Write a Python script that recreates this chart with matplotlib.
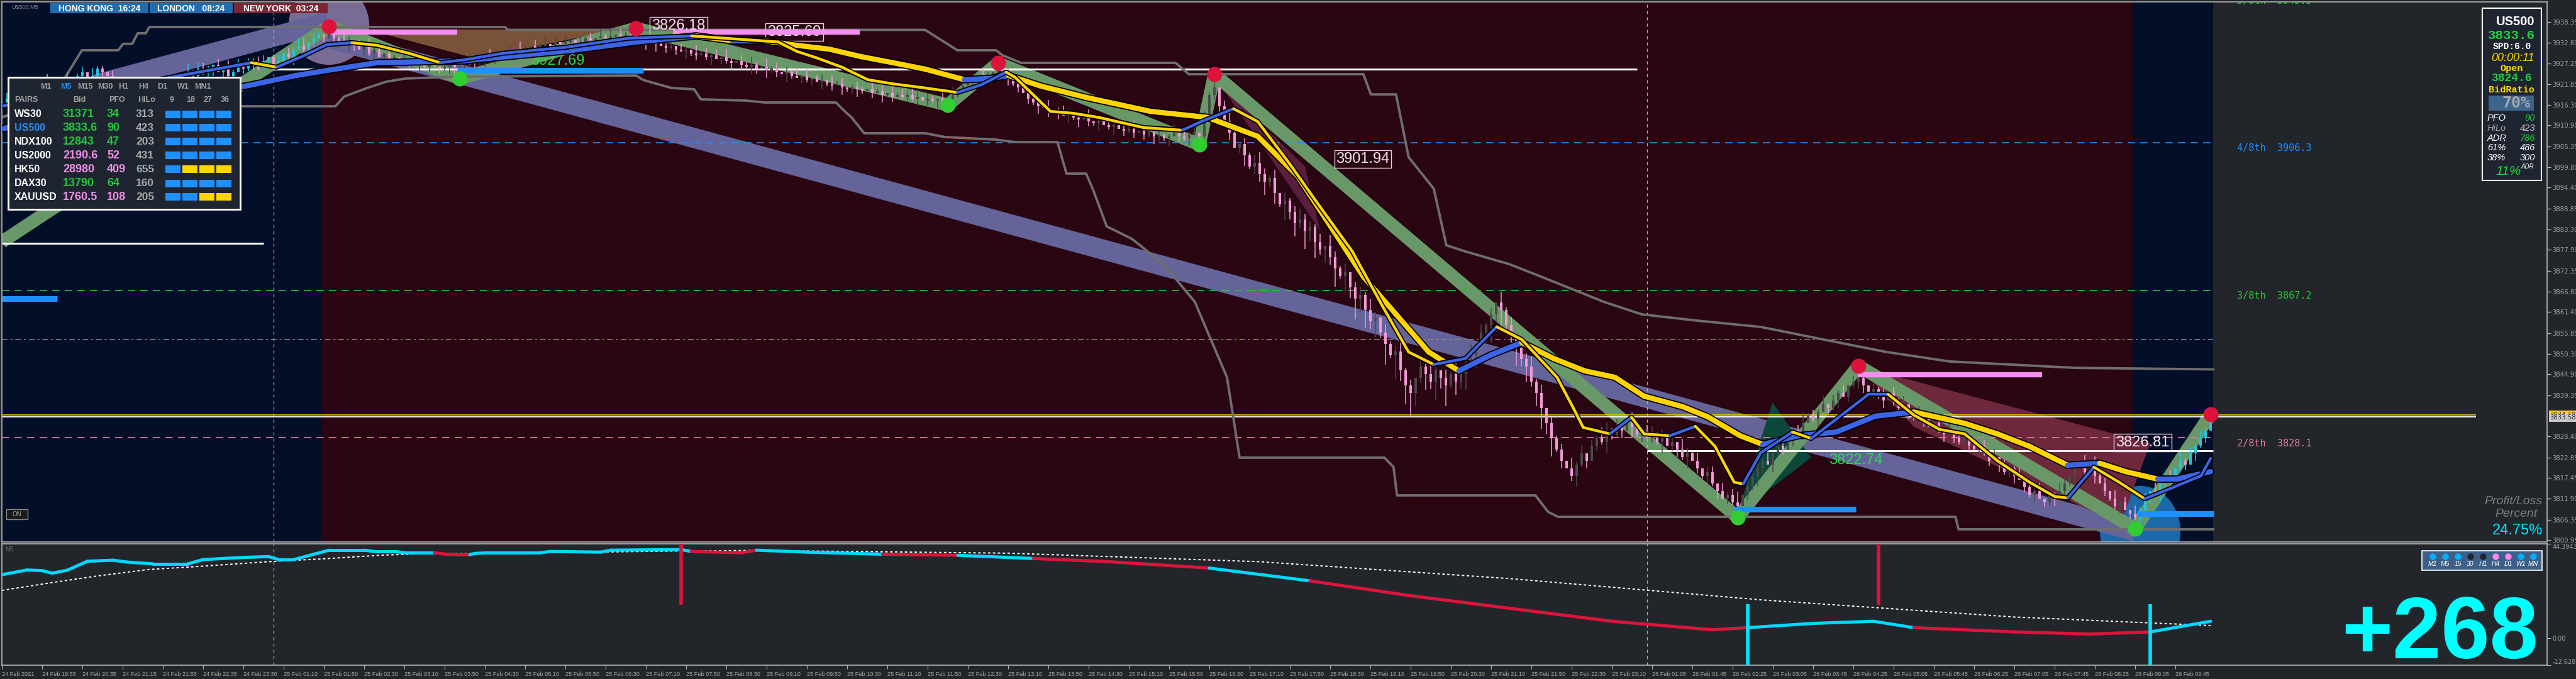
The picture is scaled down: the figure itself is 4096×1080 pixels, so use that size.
import numpy as np
import matplotlib
matplotlib.use("Agg")
import matplotlib.pyplot as plt
from matplotlib import font_manager
from matplotlib.patches import Rectangle, Ellipse, Polygon
from matplotlib.collections import LineCollection
import matplotlib.transforms as mtransforms

# ============================ DATA ============================
time_labels = ["24 Feb 2021", "24 Feb 19:55", "24 Feb 20:35", "24 Feb 21:15", "24 Feb 21:55", "24 Feb 22:35",
               "24 Feb 23:30", "25 Feb 01:10", "25 Feb 01:50", "25 Feb 02:30", "25 Feb 03:10", "25 Feb 03:50",
               "25 Feb 04:30", "25 Feb 05:10", "25 Feb 05:50", "25 Feb 06:30", "25 Feb 07:10", "25 Feb 07:50",
               "25 Feb 08:30", "25 Feb 09:10", "25 Feb 09:50", "25 Feb 10:30", "25 Feb 11:10", "25 Feb 11:50",
               "25 Feb 12:30", "25 Feb 13:10", "25 Feb 13:50", "25 Feb 14:30", "25 Feb 15:10", "25 Feb 15:50",
               "25 Feb 16:30", "25 Feb 17:10", "25 Feb 17:50", "25 Feb 18:30", "25 Feb 19:10", "25 Feb 19:50",
               "25 Feb 20:30", "25 Feb 21:10", "25 Feb 21:50", "25 Feb 22:30", "25 Feb 23:10", "26 Feb 01:05",
               "26 Feb 01:45", "26 Feb 02:25", "26 Feb 03:05", "26 Feb 03:45", "26 Feb 04:25", "26 Feb 05:05",
               "26 Feb 05:45", "26 Feb 06:25", "26 Feb 07:05", "26 Feb 07:45", "26 Feb 08:25", "26 Feb 09:05",
               "26 Feb 09:45"]
price_ticks = ["3938.35", "3932.80", "3927.25", "3921.85", "3916.30", "3910.90", "3905.35", "3899.80", "3894.40",
               "3888.85", "3883.30", "3877.90", "3872.35", "3866.80", "3861.40", "3855.85", "3850.30", "3844.90",
               "3839.35", "3828.40", "3822.85", "3817.45", "3811.90", "3806.35", "3800.95"]

first_open = 3916.5
closes = [3917, 3918, 3920, 3919, 3921, 3922, 3920, 3921, 3923, 3922,
          3920, 3919, 3921, 3923, 3922, 3924, 3925, 3923, 3924, 3926,
          3925, 3924, 3922, 3921, 3922, 3920, 3921, 3923, 3922, 3921,
          3920, 3921, 3922, 3923, 3922, 3923, 3924, 3925, 3924, 3926,
          3925, 3926, 3927, 3925, 3926, 3924, 3925, 3927, 3926, 3928,
          3927, 3926, 3928, 3929, 3927, 3928, 3930, 3929, 3931, 3932,
          3931, 3933, 3934, 3935, 3934.5, 3935.5, 3934, 3933, 3932, 3933,
          3932, 3931, 3932, 3930, 3931, 3929, 3930, 3928, 3929, 3927,
          3928, 3927.5, 3927, 3927.5, 3926.5, 3927, 3926.5, 3926, 3926.5, 3927,
          3926.5, 3926.5, 3927, 3928, 3927.5, 3928.5, 3929, 3928.5, 3929.5, 3930,
          3929.5, 3930.5, 3931, 3930.5, 3931.5, 3932, 3931.5, 3932, 3932.5, 3932,
          3933, 3932.5, 3933, 3933.5, 3932.5, 3933, 3934, 3933.5, 3934, 3934.5,
          3934, 3934.5, 3935, 3934.5, 3935, 3934.5, 3935, 3934, 3933, 3933.5,
          3932.5, 3932, 3931.5, 3932, 3931, 3930.5, 3931, 3930, 3929.5, 3930,
          3929, 3929.5, 3928.5, 3929, 3928, 3927.5, 3928, 3927, 3926.5, 3927,
          3926, 3926.5, 3925.5, 3926, 3925, 3924.5, 3925, 3924, 3923.5, 3924,
          3923, 3923.5, 3922.5, 3923, 3922, 3921.5, 3922, 3921, 3920.5, 3921,
          3920.5, 3920, 3920.5, 3919.5, 3920, 3919, 3919.5, 3918.5, 3919, 3918.5,
          3919, 3918, 3918.5, 3917.5, 3918, 3917.5, 3918, 3917, 3918, 3919,
          3920, 3921.5, 3922.5, 3923, 3924, 3923.5, 3924.5, 3925, 3925.5, 3924.5,
          3923.5, 3922, 3921, 3919.5, 3918, 3917, 3916, 3915.5, 3914.5, 3915,
          3914, 3913.5, 3914, 3913, 3912.5, 3913, 3912, 3911.5, 3912, 3911,
          3910.5, 3911, 3910, 3909.5, 3910, 3909, 3909.5, 3908.5, 3909, 3908,
          3908.5, 3907.5, 3908, 3909, 3908, 3907.5, 3908.5, 3909, 3908, 3914,
          3919, 3921, 3916, 3912, 3909, 3905, 3906, 3903, 3900, 3901,
          3898, 3896, 3897, 3893, 3890, 3891, 3888, 3885, 3886, 3883,
          3884, 3880, 3878, 3879, 3876, 3873, 3871, 3872, 3868, 3865,
          3866, 3862, 3859, 3860, 3856, 3853, 3850, 3851, 3846, 3842,
          3840, 3844, 3847, 3845, 3843, 3846, 3844, 3842, 3845, 3843,
          3845, 3848, 3850, 3853, 3856, 3858, 3861, 3864, 3862, 3858,
          3855, 3852, 3849, 3847, 3843, 3840, 3836, 3832, 3828, 3825,
          3822, 3820, 3818, 3821, 3824, 3822, 3826, 3828, 3827, 3830,
          3829, 3831, 3830, 3832, 3831, 3829, 3830, 3828, 3829, 3827,
          3828, 3826, 3827, 3825, 3823, 3824, 3822, 3820, 3818, 3819,
          3816, 3814, 3812, 3813, 3811, 3810, 3813, 3815, 3818, 3820,
          3822, 3821, 3824, 3826, 3825, 3828, 3830, 3829, 3832, 3834,
          3833, 3835, 3837, 3836, 3838, 3840, 3839, 3842, 3843, 3844,
          3842, 3840, 3841, 3839, 3838, 3840, 3838, 3836, 3837, 3835,
          3834, 3835, 3833, 3831, 3832, 3830, 3829, 3830, 3828, 3827,
          3828, 3826, 3825, 3826, 3824, 3822, 3823, 3821, 3819, 3820,
          3818, 3817, 3815, 3813, 3814, 3812, 3811, 3813, 3812, 3814,
          3816, 3818, 3820, 3822, 3819, 3821, 3818, 3816, 3814, 3812,
          3810, 3811, 3809, 3808, 3807, 3809, 3812, 3814, 3813, 3816,
          3818, 3817, 3820, 3822, 3821, 3824, 3826, 3828, 3830, 3833.6]
wick_up = ("1201302102 2013012031 1022013102 0130210312 2102031201 1320120213 3021020132 1203120210 "
           "2012031021 3102201301 1203102130 2031021203 1302120312 0213021031 2120310213 1031202130 "
           "3012031201 2103120312 1230210213 0312031021 2103120130 1320213021 3102130212 2013021301 "
           "1302310213 4213031242 2130421302 3142031241 2031420314 1240312041 3102413021 2041302143 "
           "1302410231 3120421302 2031240313 1302130241 2130213021 3021302130 1203120312 2130213021 "
           "1302130213 2031203120 3120312031 1203120312")
wick_dn = ("2103120312 1320213021 2031203120 3102130213 1230213021 2103102130 1320213102 2031302120 "
           "1203120213 3120213021 2013120312 1302031210 2120312031 3021203120 1302130213 2031203102 "
           "1203120312 3102031201 2130213021 1023120312 3120213021 2031302130 1302120213 2130213021 "
           "3241302413 3524163527 4625371648 5736281947 9526374815 3625147362 4736258471 3024130214 "
           "2130413021 4023140213 1302130214 2031203120 1302130213 3021302103 2130213021 1203120312 "
           "3021302130 2130213021 1302130213 2031203120")

sessions = [(-1.0, 63.5, "asia"), (63.5, 423.5, "ny"), (423.5, 439.5, "asia")]
day_breaks = [54, 327]

slow_b = [0, 24.6, 49.6, 58.4, 66.3, 74.6, 91.8, 113.4, 126.1, 138, 145.3, 151.6, 158, 164.4, 170.8, 177.1,
          183.5, 191.3, 196.3, 200.1, 206.5, 215.5, 228.3, 239.6, 249.6, 257.5, 264.1, 270.6, 277.1, 283.6,
          289.6, 295.9, 302.1, 308.4, 314.6, 320.6, 326.4, 334.1, 339.1, 345.5, 350, 357, 364.6, 372.4, 380,
          390.1, 396.6, 403, 410.6, 417, 422.1, 428.5, 432.3, 439]
slow_p = [3910, 3915.5, 3921.6, 3924.1, 3925.8, 3927.5, 3928.0, 3930.8, 3933.0, 3934.6, 3933.3, 3933.3, 3932.1,
          3931.1, 3929.1, 3927.5, 3925.8, 3923.0, 3923.3, 3924.1, 3921.3, 3918.3, 3914.6, 3913.0, 3908.0, 3897.5,
          3884.1, 3870.8, 3860.8, 3850.8, 3845.8, 3850.0, 3853.3, 3849.1, 3845.8, 3844.1, 3839.1, 3836.3, 3833.6,
          3828.6, 3826.3, 3828.6, 3829.6, 3833.8, 3834.9, 3831.9, 3829.1, 3825.8, 3820.8, 3821.3, 3819.1, 3817.1,
          3817.1, 3819.1]
fast_b = [0, 24.6, 49.6, 54.6, 59.6, 64.6, 69.6, 74.6, 80.9, 87.1, 92.1, 99.6, 112.1, 124.6, 137.1, 154.3, 158,
          161.9, 167, 172.1, 177.1, 183.5, 189.9, 194.6, 199.6, 201.4, 205.3, 208.4, 212.9, 218, 226.9, 234.6,
          238.4, 244.8, 249.6, 255.9, 262.1, 268.4, 274.6, 279.6, 284.6, 290.9, 297.1, 302.1, 309.1, 312.4, 314.3,
          319.6, 323.9, 326.4, 331.5, 336.6, 340.5, 344.3, 346.1, 349.6, 355.9, 359.6, 364.6, 371, 374.9, 380,
          385.1, 390.1, 396.6, 403, 408, 410.6, 415.8, 420.8, 425.9, 431, 437.1, 439]
fast_p = [3916, 3921.5, 3927.5, 3926.3, 3929.1, 3932.3, 3932.8, 3932.1, 3930.0, 3927.5, 3928.3, 3930.0, 3931.6,
          3934.0, 3934.6, 3933.0, 3930.5, 3928.8, 3926.3, 3923.0, 3921.9, 3920.8, 3919.6, 3921.6, 3925.0, 3923.6,
          3918.6, 3914.6, 3914.1, 3913.0, 3910.3, 3909.6, 3911.9, 3915.3, 3911.9, 3900.8, 3889.1, 3877.5, 3862.5,
          3850.8, 3847.5, 3849.1, 3857.5, 3854.1, 3844.1, 3835.8, 3830.8, 3829.1, 3833.5, 3829.1, 3828.6, 3831.1,
          3825.8, 3816.3, 3815.8, 3824.1, 3829.6, 3827.9, 3833.0, 3839.6, 3839.6, 3834.1, 3830.3, 3829.1, 3822.0,
          3816.3, 3812.5, 3812.1, 3820.3, 3816.3, 3811.9, 3814.6, 3818.0, 3822.6]

chan_up_b = [0, 10, 15.9, 23.1, 24.1, 25.9, 27, 28.6, 29.3, 100, 100.6, 183.5, 189.9, 197.6, 198.9, 202.6, 233.3,
             235.9, 270.6, 272.1, 277.1, 279.6, 284.6, 287.1, 290.9, 299.6, 305.9, 318.4, 325.9, 337.1, 349.6,
             362.1, 374.6, 387.1, 412.1, 439.5]
chan_up_p = [3913, 3918, 3930.8, 3930.8, 3932.5, 3932.5, 3935.3, 3935.3, 3936.95, 3936.95, 3936.2, 3936.2, 3930.8,
             3930.8, 3929.45, 3927.45, 3927.45, 3924.45, 3924.45, 3919.1, 3919.1, 3902.45, 3894.1, 3879.1, 3877.45,
             3874.1, 3870.8, 3864.1, 3860.8, 3859.1, 3857.45, 3854.1, 3850.8, 3848.3, 3846.6, 3846.2]
chan_dn_b = [0, 66.3, 68, 72.6, 76.4, 80.2, 90.5, 126.1, 127.4, 130, 133.1, 137.6, 138.9, 147.9, 151.6, 165.8, 167,
             168.9, 171.4, 183.5, 187.4, 197.6, 201.4, 209.8, 211.6, 215.5, 216.8, 219.6, 224.6, 230.9, 237.1, 243.5,
             246, 274.8, 276.6, 277.3, 304.8, 307.3, 309.3, 388.3, 388.9, 439.5]
chan_dn_p = [3915.95, 3915.95, 3918.5, 3920.8, 3922.45, 3923.3, 3923.8, 3924.1, 3922.95, 3921.95, 3920.8, 3920.45,
             3917.8, 3917.45, 3916.95, 3916.95, 3915.3, 3912.95, 3908.8, 3908.8, 3907.8, 3907.1, 3906.45, 3906.45,
             3898.1, 3898.1, 3894.1, 3884.1, 3880.8, 3874.1, 3864.1, 3844.1, 3822.8, 3822.8, 3820.3, 3812.8, 3812.8,
             3808.45, 3807.1, 3807.1, 3803.8, 3803.8]

zz_b = [0, 65, 91, 126, 188, 198, 238, 241, 345, 369, 424, 439]
zz_p = [3880, 3937.1, 3923.3, 3936.6, 3916.3, 3927.4, 3905.8, 3924.4, 3806.95, 3847.1, 3803.95, 3834.3]
high_dots_b = [65, 126, 198, 241, 369, 439]
high_dots_p = [3937.1, 3936.6, 3927.4, 3924.4, 3847.1, 3834.3]
low_dots_b = [91, 188, 238, 345, 424]
low_dots_p = [3923.3, 3916.3, 3905.8, 3806.95, 3803.95]

band_down = [(64.6, 3934.1), (424.0, 3803.3)]
band_up = [(18.4, 3921.6), (64.9, 3938.3)]
tri_brown = [(72.6, 3936.3), (122.4, 3936.3), (94.3, 3928.6)]
tri_teal = [(344.9, 3807.8), (351.9, 3837.5), (359.6, 3822.8)]
quad_red = [(369, 3847), (427, 3826.6), (421, 3805), (380, 3831)]
tri_red = [(242, 3922), (262, 3883), (259, 3900)]
circle_top = (65, 3937.6)
circle_bottom = (425, 3803.3)

pink_bars = [(65.4, 90.5, 3935.7), (133.4, 170.5, 3935.7), (368.9, 405.5, 3844.8)]
blue_bars = [(0, 11, 3864.9), (90.5, 127.5, 3925.5), (344.3, 368.5, 3809.1), (424.4, 439.6, 3807.9)]
day_open = [(0, 52, 3879.6), (54, 325, 3925.8), (327, 439.5, 3824.6)]
bid, ask = 3833.58, 3834.18
murrey = [("5/8th", 3945.3), ("4/8th", 3906.3), ("3/8th", 3867.2), ("2/8th", 3828.1)]
mid_level = 3854.1

price_tags = [("3826.18", 134.5, 3937.3), ("3825.69", 157.5, 3935.6), ("3901.94", 270.5, 3902.0),
              ("3826.81", 425.5, 3826.8)]
green_tags = [("3822.74", 368.5, 3822.2), ("3927.69", 110.5, 3928.0)]

ind_b = [0, 5, 8, 10, 13, 17, 22, 25, 30, 37, 40, 44, 48, 53, 55, 58, 62, 65, 72, 74, 78, 80, 86, 88, 90, 93, 94,
         97, 107, 109, 119, 121, 135, 137, 147, 150, 160, 175, 190, 205, 220, 240, 260, 280, 300, 320, 340, 347,
         360, 372, 380, 400, 415, 427, 439]
ind_v = [29.9, 32.1, 31.8, 30.6, 32.0, 36.2, 36.7, 35.8, 35.0, 35.0, 37.0, 37.5, 38.0, 38.4, 37.0, 37.0, 39.5,
         41.4, 41.4, 40.8, 40.8, 40.2, 40.2, 39.6, 39.3, 39.3, 39.9, 40.2, 40.2, 40.8, 40.5, 41.4, 41.7, 40.8,
         40.2, 41.4, 40.5, 39.5, 39.0, 37.5, 36.0, 33.0, 27.0, 20.0, 14.0, 8.0, 4.0, 5.0, 7.0, 8.0, 5.0, 3.0,
         2.0, 3.0, 8.0]
ind_state = "cccccccccccccccccccccccrrrccccccccrrcc" "rcrrcrrrrrcccrrrcc"
sig_b = [0, 10, 19, 29, 38, 53, 65, 75, 84, 96, 110, 124, 134, 150, 200, 250, 300, 350, 400, 439]
sig_v = [22.5, 26.2, 29.3, 32.3, 33.6, 36.0, 37.5, 39.0, 39.8, 39.8, 40.3, 40.7, 41.0, 41.3, 40.0, 36.0, 28.0,
         18.0, 10.0, 6.0]
red_spikes = [135, 373]
cyan_spikes = [347, 427]
sub_ticks = [44.3943, 0.0, -12.6286]

pairs = ["WS30", "US500", "NDX100", "US2000", "HK50", "DAX30", "XAUUSD"]
bids = ["31371", "3833.6", "12843", "2190.6", "28980", "13790", "1760.5"]
pfos = ["34", "90", "47", "52", "409", "64", "108"]
hilos = ["313", "423", "203", "431", "655", "160", "205"]
pair_up = [1, 1, 1, 0, 0, 1, 0]
trend_cells = [[1, 1, 1, 1], [1, 1, 1, 1], [1, 1, 1, 1], [1, 1, 1, 1], [1, 0, 0, 0], [1, 1, 1, 1], [1, 1, 0, 0]]
table_tfs = ["M1", "M5", "M15", "M30", "H1", "H4", "D1", "W1", "MN1"]
table_cols = ["PAIRS", "Bid", "PFO", "HiLo", "9", "18", "27", "36"]
mini_tfs = ["M1", "M5", "15", "30", "H1", "H4", "D1", "W1", "MN"]
mini_state = ["b", "b", "b", "n", "n", "p", "p", "b", "b"]
sessions_hdr = [("HONG KONG  16:24", "asia"), ("LONDON   08:24", "asia"), ("NEW YORK  03:24", "ny")]
info_rows = [("PFO", "90"), ("HiLo", "423"), ("ADR", "786"), ("61%", "486"), ("38%", "300")]

# ============================ STYLE / LAYOUT ============================
avail = {f.name for f in font_manager.fontManager.ttflist}
SANS = "Liberation Sans" if "Liberation Sans" in avail else "DejaVu Sans"
MONO = "Liberation Mono" if "Liberation Mono" in avail else "DejaVu Sans Mono"

W, H = 4096, 1080
BG = "#22262b"
NAVY = "#030e28"
MAROON = "#2a0512"
SPINE = "#b4b4b4"
fig = plt.figure(figsize=(W / 100, H / 100), dpi=100)
fig.patch.set_facecolor(BG)

L, R = 3, 4050
MT, MB = 3, 862
ST, SB = 865, 1058
ax = fig.add_axes([L / W, 1 - MB / H, (R - L) / W, (MB - MT) / H])
ax2 = fig.add_axes([L / W, 1 - SB / H, (R - L) / W, (SB - ST) / H])
ov = fig.add_axes([0, 0, 1, 1], zorder=20)
ov.set_xlim(0, W)
ov.set_ylim(H, 0)
ov.axis("off")
ov.patch.set_alpha(0)

XMAX = (R - L) / 8.0
for a in (ax, ax2):
    a.set_facecolor(BG)
    a.set_xlim(0, XMAX)
    for s in a.spines.values():
        s.set_color(SPINE)
        s.set_linewidth(1.2)

ax.set_ylim(3800.45, 3943.62)
ax2.set_ylim(sub_ticks[2], sub_ticks[0])

for s0, s1, kind in sessions:
    ax.axvspan(s0, s1, color=NAVY if kind == "asia" else MAROON, zorder=0, lw=0)

ax.add_patch(Ellipse(circle_top, 16, 21.3, color="#786c94", zorder=0.6, lw=0))
ax.add_patch(Ellipse(circle_bottom, 16, 24, color="#1c68a8", zorder=0.6, lw=0))
for band in (band_down, band_up):
    ax.plot([band[0][0], band[1][0]], [band[0][1], band[1][1]], color="#64649a", lw=23,
            solid_capstyle="butt", zorder=0.8)
ax.add_patch(Polygon(tri_brown, closed=True, color="#7a5238", zorder=0.9, lw=0))
ax.add_patch(Polygon(tri_teal, closed=True, color="#0c483a", zorder=0.9, lw=0))
ax.add_patch(Polygon(quad_red, closed=True, color="#6e283c", zorder=0.9, lw=0))
ax.add_patch(Polygon(tri_red, closed=True, color="#5a1f3c", zorder=0.9, lw=0))
ax.plot(zz_b, zz_p, color="#689868", lw=15, solid_capstyle="butt", solid_joinstyle="bevel", zorder=1.0)

lvl_col = {"5/8th": "#22c833", "4/8th": "#1e90ff", "3/8th": "#22c833", "2/8th": "#e67ca6"}
for name, lv in murrey:
    ax.hlines(lv, 0, 439.5, colors=lvl_col[name], linestyles=(0, (7, 5)), lw=1.2, zorder=1.5)
    ax.text(444.3, lv - 1.5, f"{name}  {lv:.1f}", family="DejaVu Sans Mono", fontsize=11,
            color=lvl_col[name], va="center", ha="left", zorder=4, clip_on=True)
ax.hlines(mid_level, 0, 439.5, colors="#8a8a8a", linestyles=(0, (6, 3, 2, 3)), lw=1.1, zorder=1.5)
for b0, b1, p in day_open:
    ax.hlines(p, b0, b1, colors="white", lw=2.2, zorder=1.6)
ax.hlines(ask, 0, 491.75, colors="#e6c200", lw=1.3, zorder=1.6)
ax.hlines(bid, 0, 491.75, colors="white", lw=1.3, zorder=1.6)
for d in day_breaks:
    for a in (ax, ax2):
        a.axvline(d, color="#b0b0b0", ls=(0, (4, 4)), lw=0.9, zorder=1.4)

ax.plot(chan_up_b, chan_up_p, color="#6e6e6e", lw=2.8, zorder=1.7)
ax.plot(chan_dn_b, chan_dn_p, color="#6e6e6e", lw=2.8, zorder=1.7)

for txt, b, p in price_tags:
    ax.text(b, p, txt, family=SANS, fontsize=17, color="#f0e6f0", ha="center", va="center", zorder=1.8,
            bbox=dict(boxstyle="square,pad=0.12", fc="none", ec="#e8d0e8", lw=1.0))
for txt, b, p in green_tags:
    ax.text(b, p, txt, family=SANS, fontsize=17, color="#22dd44", ha="center", va="center", zorder=1.8)

wu = np.array([int(ch) for ch in wick_up.replace(" ", "")], dtype=float)
wd = np.array([int(ch) for ch in wick_dn.replace(" ", "")], dtype=float)
n = min(len(closes), len(wu), len(wd))
c = np.array(closes[:n], dtype=float)
o = np.concatenate([[first_open], c[:-1]])
hi = np.maximum(o, c) + wu[:n] * 0.7
lo = np.minimum(o, c) - wd[:n] * 0.7
xb = np.arange(n)


def session_of(b):
    for s0, s1, kind in sessions:
        if s0 <= b < s1:
            return kind
    return "asia"


cols = []
for i in range(n):
    if c[i] >= o[i]:
        cols.append("#1ec8e0" if session_of(i) == "asia" else "#4a4a4a")
    else:
        cols.append("#f09ad6")
ax.vlines(xb, lo, hi, colors=cols, lw=1.1, zorder=2)
ax.bar(xb, np.maximum(np.abs(c - o), 0.2), bottom=np.minimum(o, c), width=0.62, color=cols, lw=0, zorder=2.1)

for b0, b1, p in pink_bars:
    ax.hlines(p, b0, b1, colors="#f58ef0", lw=6, zorder=2.5)
for b0, b1, p in blue_bars:
    ax.hlines(p, b0, b1, colors="#1e90ff", lw=6.5, zorder=2.5)


def draw_ma(xs, ys, lw, z):
    ax.plot(xs, ys, color="black", lw=lw + 2.6, zorder=z, solid_capstyle="round", solid_joinstyle="round")
    segs = [[(xs[i], ys[i]), (xs[i + 1], ys[i + 1])] for i in range(len(xs) - 1)]
    colors = ["#3c64e6" if ys[i + 1] >= ys[i] else "#ffd400" for i in range(len(xs) - 1)]
    ax.add_collection(LineCollection(segs, colors=colors, linewidths=lw, zorder=z + 0.05, capstyle="round"))


draw_ma(slow_b, slow_p, 6.0, 3.0)
draw_ma(fast_b, fast_p, 3.2, 3.1)

ax.scatter(high_dots_b, high_dots_p, s=300, c="#dc143c", lw=0, zorder=3.5)
ax.scatter(low_dots_b, low_dots_p, s=300, c="#32cd32", lw=0, zorder=3.5)

ax.set_xticks([])
ax.yaxis.tick_right()
ax.set_yticks([float(t) for t in price_ticks])
ax.set_yticklabels(price_ticks)
ax.tick_params(axis="y", colors=SPINE, labelcolor="#a0a0a0", labelsize=7.3, length=4, width=1, pad=2)
trans = mtransforms.blended_transform_factory(ax.transAxes, ax.transData)
ax.text(1.001, ask, f"{ask:.2f}", transform=trans, fontsize=7.3, color="#303030", ha="left", va="center",
        bbox=dict(boxstyle="square,pad=0.12", fc="#ffd700", ec="none"), clip_on=False, zorder=10)
ax.text(1.001, bid - 0.2, f"{bid:.2f}", transform=trans, fontsize=7.3, color="#303030", ha="left", va="center",
        bbox=dict(boxstyle="square,pad=0.12", fc="#c8c8c8", ec="none"), clip_on=False, zorder=11)

# ---------------- sub panel ----------------
pts = list(zip(ind_b, ind_v))
segs = [[pts[i], pts[i + 1]] for i in range(len(pts) - 1)]
scol = []
for i in range(len(segs)):
    st = ind_state[i + 1] if i + 1 < len(ind_state) else "c"
    scol.append("#dc143c" if st == "r" else "#00d8ff")
ax2.plot(sig_b, sig_v, color="white", lw=1.4, ls=(0, (2, 2)), zorder=2)
ax2.add_collection(LineCollection(segs, colors=scol, linewidths=3.6, zorder=3, capstyle="round"))
ax2.vlines(red_spikes, 15.7, sub_ticks[0], colors="#dc143c", lw=4, zorder=3)
ax2.vlines(cyan_spikes, sub_ticks[2], 16.0, colors="#00e5ff", lw=4, zorder=3)
ax2.yaxis.tick_right()
ax2.set_yticks(sub_ticks)
ax2.set_yticklabels(["44.3943", "0.00", "-12.6286"])
ax2.tick_params(axis="y", colors=SPINE, labelcolor="#a0a0a0", labelsize=7.0, length=4, pad=2)
labs = ax2.get_yticklabels()
labs[0].set_va("top")
labs[2].set_va("bottom")
ax2.set_xticks(np.arange(len(time_labels)) * 8)
ax2.set_xticklabels(time_labels, ha="left", family=SANS)
ax2.tick_params(axis="x", colors=SPINE, labelcolor="#a8a49c", labelsize=6.6, length=4, pad=3)


# ---------------- overlay ----------------
def T(x, y, s, size, color, ha="left", va="center", family=None, weight="normal", style="normal", z=22):
    ov.text(x, y, s, fontsize=size, color=color, ha=ha, va=va, family=family or SANS, weight=weight,
            style=style, zorder=z)


T(18, 11, "US500,M5", 6.5, "#8c8c8c")
hdr_x = [(80, 236), (238, 370), (372, 521)]
for (x0, x1), (txt, kind) in zip(hdr_x, sessions_hdr):
    ov.add_patch(Rectangle((x0, 5), x1 - x0, 16, fc="#1f6db0" if kind == "asia" else "#7a2634", ec="none",
                           zorder=21))
    T((x0 + x1) / 2, 13.5, txt, 10, "white", ha="center", weight="bold")

ov.add_patch(Rectangle((13, 123), 369, 210, fc="#1e2530", ec="white", lw=2, zorder=21))
tf_x = [73, 105, 135, 167, 196, 228, 258, 291, 322]
for tx, tf in zip(tf_x, table_tfs):
    T(tx, 138, tf, 9, "#2a8cf0" if tf == "M5" else "#a0a0a0", ha="center", weight="bold")
col_x = [(23, "left"), (126, "center"), (186, "center"), (233, "center"), (273, "center"), (303, "center"),
         (330, "center"), (358, "center")]
for (cx, ha), ct in zip(col_x, table_cols):
    T(cx, 159, ct, 9, "#a0a0a0", ha=ha, weight="bold")
row_y = [182, 203, 225, 247, 269, 292, 313]
for i, y in enumerate(row_y):
    T(23, y, pairs[i], 11.5, "#2a8cf0" if pairs[i] == "US500" else "white", weight="bold")
    vc = "#20c83c" if pair_up[i] else "#f28ee8"
    T(100, y, bids[i], 13, vc, weight="bold")
    T(170, y, pfos[i], 13, vc, weight="bold")
    T(216, y, hilos[i], 12.5, "#a8a8a8", weight="bold")
    for j, cx in enumerate([263, 290, 317, 344]):
        ov.add_patch(Rectangle((cx, y - 6), 24, 12, fc="#1e90ff" if trend_cells[i][j] else "#ffd700",
                               ec="none", zorder=22))

ov.add_patch(Rectangle((3947, 13), 94, 274, fc="#1e2530", ec="white", lw=1.5, zorder=21))
T(4030, 34, "US500", 14.5, "white", ha="right", weight="bold")
T(4030, 56, "3833.6", 15, "#1fd13b", ha="right", family=MONO, weight="bold")
T(3994, 74, "SPD:6.0", 10.5, "white", ha="center", family=MONO, weight="bold")
T(4030, 92.5, "00:00:11", 13, "#ffd700", ha="right", style="italic")
T(3994, 108.5, "Open", 11, "#ffd700", ha="center", family=MONO, weight="bold")
T(3993, 124.5, "3824.6", 13, "#1fd13b", ha="center", family=MONO, weight="bold")
T(3993, 143, "BidRatio", 11, "#ffd700", ha="center", family=MONO, weight="bold")
ov.add_patch(Rectangle((3957, 152), 72, 23.5, fc="#3c648c", ec="none", zorder=22))
T(4001, 164, "70%", 18, "#a8a8a8", ha="center", family="DejaVu Sans Mono", weight="bold", z=23)
info_colors = [("white", "#1fd13b"), ("#a0a0a0", "#c8c8c8"), ("white", "#1fd13b"), ("white", "white"),
               ("white", "white")]
for k, ((lt, rt), (lc, rc)) in enumerate(zip(info_rows, info_colors)):
    yy = 187.7 + k * 15.9
    T(3955, yy, lt, 10.5, lc, style="italic")
    T(4031, yy, rt, 10.5, rc, ha="right", style="italic")
T(3989, 272, "11%", 15, "#1fd13b", ha="center", style="italic")
T(4019, 265, "ADR", 7, "white", ha="center", style="italic")

T(4043, 798, "Profit/Loss", 14, "#7c7c7c", ha="right", style="italic")
T(4035, 818, "Percent", 14, "#7c7c7c", ha="right", style="italic")
T(4043, 844, "24.75%", 17, "#00e5ff", ha="right")

ov.add_patch(Rectangle((10, 810), 34, 16, fc="#1a1a1a", ec="#8a8a8a", lw=1, zorder=21))
T(27, 818, "ON", 7, "#a0a0a0", ha="center")
T(8, 874, "M5", 7, "#6e6e6e")

ov.add_patch(Rectangle((3851, 876), 191, 31, fc="#3d6088", ec="white", lw=1.2, zorder=21))
mcol = {"b": "#00b0ff", "n": "#1e2530", "p": "#ff88ee"}
for k, (tf, stt) in enumerate(zip(mini_tfs, mini_state)):
    xx = 3868 + k * 20
    ov.scatter([xx], [885], s=55, c=mcol[stt], lw=0, zorder=22)
    T(xx, 897.5, tf, 7.5, "white", ha="center", style="italic")

T(4036, 1047, "+268", 100, "#00ffff", ha="right", va="baseline", weight="bold")

fig.savefig("out.png", dpi=100, facecolor=fig.get_facecolor())
